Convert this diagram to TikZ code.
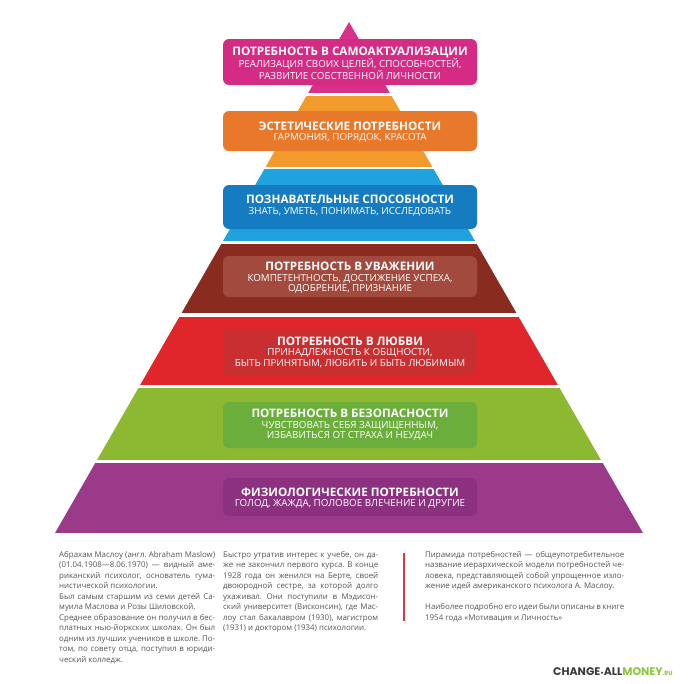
\documentclass[tikz,border=0pt]{standalone}
\usepackage{fontspec}
\setmainfont{Open Sans}
\newfontfamily\logofont{Poppins}

\definecolor{pinkband}{HTML}{D8318A}
\definecolor{pinkbox}{HTML}{D42C85}
\definecolor{orangeband}{HTML}{F39A2D}
\definecolor{orangebox}{HTML}{E8792B}
\definecolor{blueband}{HTML}{1FA2DD}
\definecolor{bluebox}{HTML}{167CC2}
\definecolor{brownband}{HTML}{8A2B1F}
\definecolor{brownbox}{HTML}{A24A3D}
\definecolor{redband}{HTML}{E1262B}
\definecolor{redbox}{HTML}{C92F31}
\definecolor{greenband}{HTML}{8DB832}
\definecolor{greenbox}{HTML}{6BAE3C}
\definecolor{purpleband}{HTML}{9C3A8A}
\definecolor{purplebox}{HTML}{8B3180}
\definecolor{textgray}{HTML}{555555}
\definecolor{logogray}{HTML}{3A3A3A}
\definecolor{logogreen}{HTML}{8CC63F}
\definecolor{linered}{HTML}{D23A4A}

\newcommand{\needtitle}[1]{{\fontsize{11.7}{13}\selectfont\bfseries #1}}

\begin{document}
\begin{tikzpicture}[x=1pt,y=-1pt,
    needbox/.style={rounded corners=6pt},
    needtext/.style={text=white,align=center,inner sep=0pt,
      font=\fontsize{9.8}{10.5}\selectfont},
    coltext/.style={anchor=north west,text=textgray,align=justify,
      inner sep=0pt,font=\fontsize{7.9}{10.5}\selectfont\frenchspacing}]
  \useasboundingbox[fill=white] (0,0) rectangle (700,683);

  % pyramid bands
  \begin{scope}
    \clip (349,22) -- (643,533) -- (55,533) -- cycle;
    \fill[pinkband]   (0,0)   rectangle (700,93);
    \fill[orangeband] (0,96)  rectangle (700,167);
    \fill[blueband]   (0,169) rectangle (700,241);
    \fill[brownband]  (0,244) rectangle (700,313);
    \fill[redband]    (0,317) rectangle (700,385);
    \fill[greenband]  (0,388) rectangle (700,460);
    \fill[purpleband] (0,463) rectangle (700,533);
  \end{scope}

  % boxes
  \fill[needbox,pinkbox]   (223,39)  rectangle (477,85);
  \fill[needbox,orangebox] (223,111) rectangle (477,151);
  \fill[needbox,bluebox]   (223,185) rectangle (477,229);
  \fill[needbox,brownbox]  (223,256) rectangle (477,297);
  \fill[needbox,redbox]    (223,329) rectangle (477,375);
  \fill[needbox,greenbox]  (223,402) rectangle (477,448);
  \fill[needbox,purplebox] (223,478) rectangle (477,516);

  \node[needtext] (self) at (350,63)
    {\needtitle{ПОТРЕБНОСТЬ В САМОАКТУАЛИЗАЦИИ}\\
     РЕАЛИЗАЦИЯ СВОИХ ЦЕЛЕЙ, СПОСОБНОСТЕЙ,\\
     РАЗВИТИЕ СОБСТВЕННОЙ ЛИЧНОСТИ};
  \node[needtext] (aesth) at (350,132)
    {\needtitle{ЭСТЕТИЧЕСКИЕ ПОТРЕБНОСТИ}\\
     ГАРМОНИЯ, ПОРЯДОК, КРАСОТА};
  \node[needtext] (cogn) at (350,205.5)
    {\needtitle{ПОЗНАВАТЕЛЬНЫЕ СПОСОБНОСТИ}\\
     ЗНАТЬ, УМЕТЬ, ПОНИМАТЬ, ИССЛЕДОВАТЬ};
  \node[needtext] (esteem) at (350,278)
    {\needtitle{ПОТРЕБНОСТЬ В УВАЖЕНИИ}\\
     КОМПЕТЕНТНОСТЬ, ДОСТИЖЕНИЕ УСПЕХА,\\
     ОДОБРЕНИЕ, ПРИЗНАНИЕ};
  \node[needtext] (love) at (350,352)
    {\needtitle{ПОТРЕБНОСТЬ В ЛЮБВИ}\\
     ПРИНАДЛЕЖНОСТЬ К ОБЩНОСТИ,\\
     БЫТЬ ПРИНЯТЫМ, ЛЮБИТЬ И БЫТЬ ЛЮБИМЫМ};
  \node[needtext] (safety) at (350,425)
    {\needtitle{ПОТРЕБНОСТЬ В БЕЗОПАСНОСТИ}\\
     ЧУВСТВОВАТЬ СЕБЯ ЗАЩИЩЕННЫМ,\\
     ИЗБАВИТЬСЯ ОТ СТРАХА И НЕУДАЧ};
  \node[needtext] (physio) at (350,498)
    {\needtitle{ФИЗИОЛОГИЧЕСКИЕ ПОТРЕБНОСТИ}\\
     ГОЛОД, ЖАЖДА, ПОЛОВОЕ ВЛЕЧЕНИЕ И ДРУГИЕ};

  % text columns
  \node[coltext,text width=156pt] (bio) at (59,551)
    {Абрахам Маслоу (англ. Abraham Maslow)\linebreak
     (01.04.1908---8.06.1970) --- видный аме-\linebreak
     риканский психолог, основатель гума-\linebreak
     нистической психологии.\par
     Был самым старшим из семи детей Са-\linebreak
     муила Маслова и Розы Шиловской.\par
     Среднее образование он получил в бес-\linebreak
     платных нью-йоркских школах. Он был\linebreak
     одним из лучших учеников в школе. По-\linebreak
     том, по совету отца, поступил в юриди-\linebreak
     ческий колледж.};
  \node[coltext,text width=155pt] (study) at (223,551)
    {Быстро утратив интерес к учебе, он да-\linebreak
     же не закончил первого курса. В конце\linebreak
     1928 года он женился на Берте, своей\linebreak
     двоюродной сестре, за которой долго\linebreak
     ухаживал. Они поступили в Мэдисон-\linebreak
     ский университет (Висконсин), где Мас-\linebreak
     лоу стал бакалавром (1930), магистром\linebreak
     (1931) и доктором (1934) психологии.};
  \draw[linered,line width=1.2pt] (404,553) -- (404,621);
  \node[coltext,text width=199pt] (pyr) at (425,551)
    {Пирамида потребностей --- общеупотребительное\linebreak
     название иерархической модели потребностей че-\linebreak
     ловека, представляющей собой упрощенное изло-\linebreak
     жение идей американского психолога А. Маслоу.\par
     \vspace{10.5pt}
     Наиболее подробно его идеи были описаны в книге\linebreak
     1954 года «Мотивация и Личность»};

  % logo
  \node[anchor=west,inner sep=0pt,font=\logofont\bfseries\fontsize{11}{12}\selectfont]
    (logo) at (553,672)
    {\textcolor{logogray}{CHANGE{\fontsize{7}{8}\selectfont\textbullet}ALL}\textcolor{logogreen}{MONEY{\fontsize{6}{7}\selectfont.RU}}};
\end{tikzpicture}
\end{document}
